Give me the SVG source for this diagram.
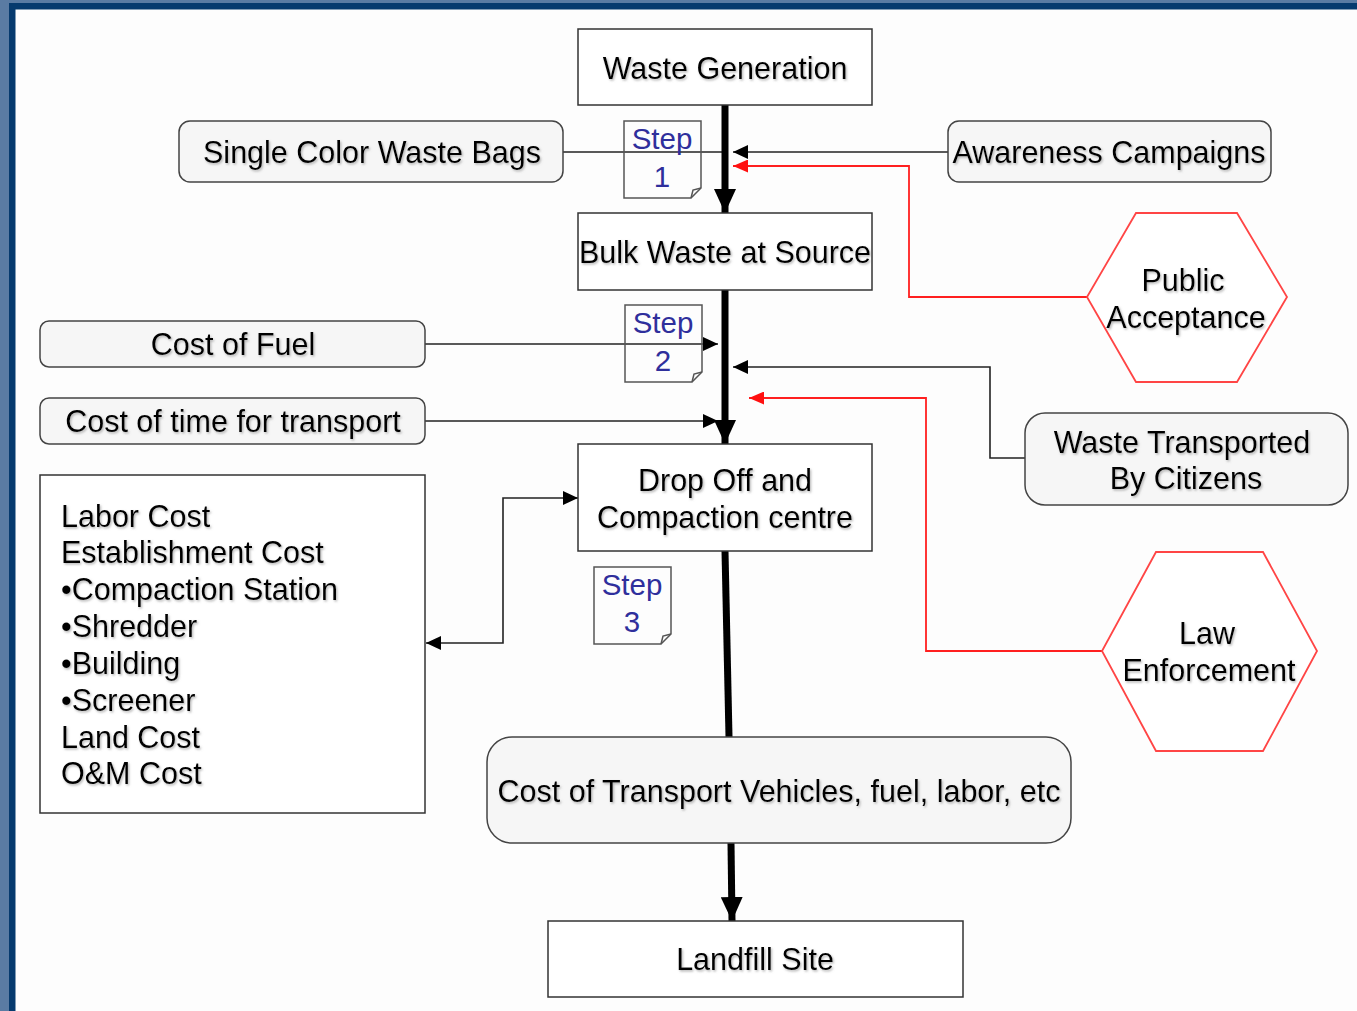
<svg xmlns="http://www.w3.org/2000/svg" width="1357" height="1011" viewBox="0 0 1357 1011">
<style>
.t{font-family:"Liberation Sans",Arial,sans-serif;font-size:30.5px;fill:#000;text-anchor:middle;filter:url(#sh)}
.tl{text-anchor:start}
.st{font-family:"Liberation Sans",Arial,sans-serif;font-size:29.5px;fill:#2f2f9c;text-anchor:middle}
.box{fill:#fff;stroke:#333;stroke-width:1.5}
.rbox{fill:#f6f6f6;stroke:#444;stroke-width:1.5}
.hex{fill:#fff;stroke:#ff4545;stroke-width:1.8}
.note{fill:none;stroke:#555;stroke-width:1.5}
.thick{stroke:#000;stroke-width:7;fill:none}
.thin{stroke:#222;stroke-width:1.6;fill:none}
.red{stroke:#ff2020;stroke-width:1.8;fill:none}
</style>
<defs>
<filter id="sh" x="-5%" y="-20%" width="110%" height="150%">
<feDropShadow dx="1.2" dy="1.5" stdDeviation="0.9" flood-color="#777" flood-opacity="0.55"/>
</filter>
<marker id="big" markerUnits="userSpaceOnUse" viewBox="0 0 24 22" markerWidth="24" markerHeight="22" refX="24" refY="11" orient="auto"><path d="M0,0 L24,11 L0,22 Z" fill="#000"/></marker>
<marker id="ar" markerUnits="userSpaceOnUse" viewBox="0 0 15 14" markerWidth="15" markerHeight="14" refX="15" refY="7" orient="auto"><path d="M0,0 L15,7 L0,14 Z" fill="#000"/></marker>
<marker id="arr" markerUnits="userSpaceOnUse" viewBox="0 0 15 13" markerWidth="15" markerHeight="13" refX="15" refY="6.5" orient="auto"><path d="M0,0 L15,6.5 L0,13 Z" fill="#ff1010"/></marker>
<marker id="ars" markerUnits="userSpaceOnUse" viewBox="0 0 15 14" markerWidth="15" markerHeight="14" refX="0" refY="7" orient="auto"><path d="M15,0 L0,7 L15,14 Z" fill="#000"/></marker>
</defs>
<rect x="0" y="0" width="1357" height="1011" fill="#5a7ba3"/>
<rect x="9" y="3" width="1348" height="1008" fill="#063a6e"/>
<rect x="15.5" y="9.5" width="1341.5" height="1001.5" fill="#fdfdfd"/>

<g id="connectors">
<line class="thin" x1="563" y1="152" x2="725" y2="152"/>
<line class="thin" x1="948" y1="152" x2="733" y2="152" marker-end="url(#ar)"/>
<polyline class="red" points="1087,297 909,297 909,166 733,166" marker-end="url(#arr)"/>
<line class="thin" x1="425" y1="344" x2="718" y2="344" marker-end="url(#ar)"/>
<line class="thin" x1="425" y1="421" x2="718" y2="421" marker-end="url(#ar)"/>
<polyline class="thin" points="1025,458 990,458 990,367 733,367" marker-end="url(#ar)"/>
<polyline class="red" points="1102,651 926,651 926,398 749,398" marker-end="url(#arr)"/>
<polyline class="thin" points="426,643 503,643 503,498 578,498" marker-start="url(#ars)" marker-end="url(#ar)"/>
<line class="thick" x1="725" y1="105" x2="725" y2="213" marker-end="url(#big)"/>
<line class="thick" x1="725" y1="290" x2="725" y2="444" marker-end="url(#big)"/>
<line class="thick" x1="725" y1="551" x2="729" y2="737"/>
<line class="thick" x1="731" y1="843" x2="732" y2="921" marker-end="url(#big)"/>
</g>

<g id="waste-generation"><rect class="box" x="578" y="29" width="294" height="76"/><text class="t" x="725" y="79">Waste Generation</text></g>
<g id="single-color-bags"><rect class="rbox" x="179" y="121" width="384" height="61" rx="11"/><text class="t" x="372" y="163">Single Color Waste Bags</text></g>
<g id="step1"><path class="note" d="M624,121 H701 V188 L691,198 H624 Z"/><path class="note" d="M701,188 L693,190 L691,198"/><text class="st" x="662" y="149">Step</text><text class="st" x="662" y="187">1</text></g>
<g id="awareness"><rect class="rbox" x="948" y="121" width="323" height="61" rx="11"/><text class="t" x="1109" y="163">Awareness Campaigns</text></g>
<g id="bulk-waste"><rect class="box" x="578" y="213" width="294" height="77"/><text class="t" x="725" y="263">Bulk Waste at Source</text></g>
<g id="public-acceptance"><polygon class="hex" points="1136,213 1237,213 1287,297 1237,382 1136,382 1087,297"/><text class="t" x="1183" y="291">Public</text><text class="t" x="1186" y="328">Acceptance</text></g>
<g id="step2"><path class="note" d="M625,305 H702 V372 L692,382 H625 Z"/><path class="note" d="M702,372 L694,374 L692,382"/><text class="st" x="663" y="333">Step</text><text class="st" x="663" y="371">2</text></g>
<g id="cost-fuel"><rect class="rbox" x="40" y="321" width="385" height="46" rx="9"/><text class="t" x="233" y="355">Cost of Fuel</text></g>
<g id="cost-time"><rect class="rbox" x="40" y="398" width="385" height="46" rx="9"/><text class="t" x="233" y="432">Cost of time for transport</text></g>
<g id="waste-transported"><rect class="rbox" x="1025" y="413" width="323" height="92" rx="20"/><text class="t" x="1182" y="453">Waste Transported</text><text class="t" x="1186" y="489">By Citizens</text></g>
<g id="drop-off"><rect class="box" x="578" y="444" width="294" height="107"/><text class="t" x="725" y="491">Drop Off and</text><text class="t" x="725" y="528">Compaction centre</text></g>
<g id="costs-list"><rect class="box" x="40" y="475" width="385" height="338"/>
<text class="t tl" x="61" y="527">Labor Cost</text>
<text class="t tl" x="61" y="563">Establishment Cost</text>
<text class="t tl" x="61" y="600">•Compaction Station</text>
<text class="t tl" x="61" y="637">•Shredder</text>
<text class="t tl" x="61" y="674">•Building</text>
<text class="t tl" x="61" y="711">•Screener</text>
<text class="t tl" x="61" y="748">Land Cost</text>
<text class="t tl" x="61" y="784">O&amp;M Cost</text></g>
<g id="step3"><path class="note" d="M594,567 H671 V634 L661,644 H594 Z"/><path class="note" d="M671,634 L663,636 L661,644"/><text class="st" x="632" y="595">Step</text><text class="st" x="632" y="632">3</text></g>
<g id="law-enforcement"><polygon class="hex" points="1156,552 1263,552 1317,651 1263,751 1156,751 1102,651"/><text class="t" x="1207" y="644">Law</text><text class="t" x="1209" y="681">Enforcement</text></g>
<g id="transport-cost"><rect class="rbox" x="487" y="737" width="584" height="106" rx="25"/><text class="t" x="779" y="802">Cost of Transport Vehicles, fuel, labor, etc</text></g>
<g id="landfill"><rect class="box" x="548" y="921" width="415" height="76"/><text class="t" x="755" y="970">Landfill Site</text></g>
</svg>
